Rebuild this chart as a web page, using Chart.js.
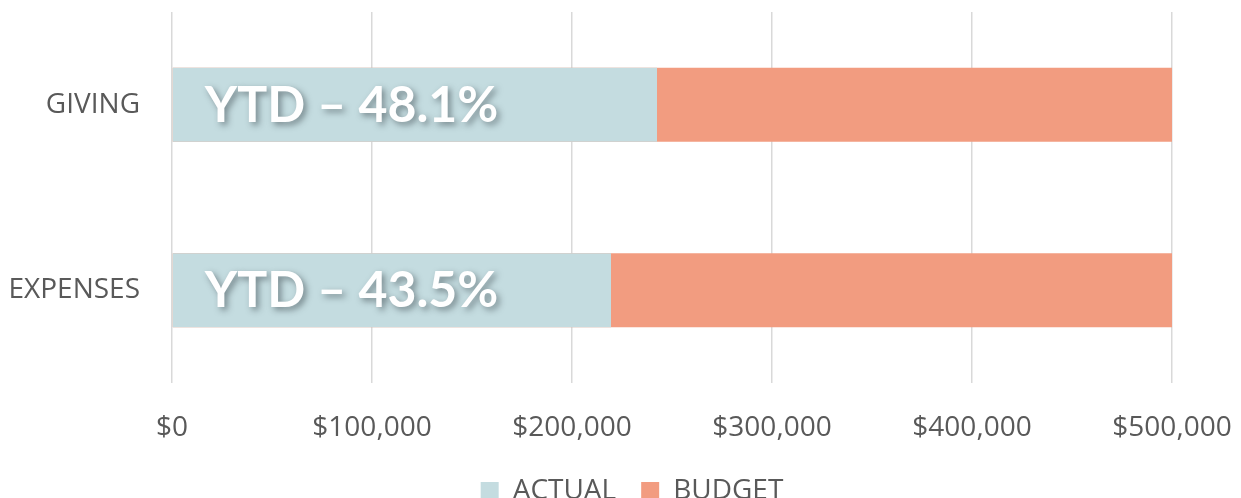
<!DOCTYPE html>
<html>
<head>
<meta charset="utf-8">
<script src="https://cdn.jsdelivr.net/npm/chart.js@4.4.0/dist/chart.umd.min.js"></script>
<style>
  html,body{margin:0;padding:0;background:#fff;}
  #wrap{width:1241px;height:498px;}
</style>
</head>
<body>
<div id="wrap"><canvas id="c" width="1241" height="498"></canvas></div>
<script>
// datos del gráfico
const categories=['GIVING','EXPENSES'];
const actualVals=[242500,219500];
const budgetVals=[500000,500000];
const ytdLabels=['YTD – 48.1%','YTD – 43.5%'];
const xTicks=[0,100000,200000,300000,400000,500000];

const txt='#595959', grid='#d9d9d9';
const fmt=v=>'$'+v.toLocaleString('en-US');
const noPad=s=>{s.paddingTop=0;s.paddingBottom=0;s.paddingLeft=0;s.paddingRight=0;};

// texto blanco con sombra dentro de la barra ACTUAL
const ytdPlugin={
  id:'ytd',
  afterLayout(chart){
    // la leyenda del original está algo corrida a la derecha
    chart.legend.left+=46;chart.legend.right+=46;
  },
  afterDatasetsDraw(chart){
    const ctx=chart.ctx;
    const meta=chart.getDatasetMeta(0);
    ctx.save();
    ctx.font='bold 50px Lato';
    ctx.fillStyle='#fff';
    ctx.textAlign='left';
    ctx.textBaseline='middle';
    ctx.shadowColor='rgba(40,50,55,0.5)';
    ctx.shadowOffsetX=3;ctx.shadowOffsetY=3;ctx.shadowBlur=6;
    meta.data.forEach((bar,i)=>{
      ctx.fillText(ytdLabels[i],bar.base+32,bar.y+1);
    });
    ctx.restore();
  }
};

new Chart(document.getElementById('c').getContext('2d'),{
  type:'bar',
  data:{labels:categories,datasets:[
    {label:'ACTUAL',data:actualVals,backgroundColor:'#c4dce0',order:0,categoryPercentage:1,barPercentage:0.4},
    {label:'BUDGET',data:budgetVals,backgroundColor:'#f29c80',order:1,categoryPercentage:1,barPercentage:0.4}
  ]},
  options:{
    indexAxis:'y',responsive:false,animation:false,
    layout:{padding:{top:12,right:69,left:0,bottom:-17}},
    plugins:{
      legend:{position:'bottom',labels:{color:txt,font:{family:'Open Sans',size:28},boxWidth:18,boxHeight:18,padding:25}},
      tooltip:{enabled:false}
    },
    scales:{
      x:{min:0,max:500000,stacked:false,
        afterBuildTicks:s=>{s.ticks=xTicks.map(v=>({value:v}));},
        afterFit:s=>{s.height=69;noPad(s);},
        grid:{color:grid,lineWidth:1.5,drawTicks:false},border:{display:false},
        ticks:{color:txt,font:{family:'Open Sans',size:28},padding:28,maxRotation:0,callback:v=>fmt(v)}},
      y:{stacked:true,
        afterFit:s=>{s.width=172;noPad(s);},
        grid:{display:false,drawTicks:false},border:{display:false},
        ticks:{color:txt,font:{family:'Open Sans',size:28},padding:32}}
    }
  },
  plugins:[ytdPlugin]
});
</script>
</body>
</html>
